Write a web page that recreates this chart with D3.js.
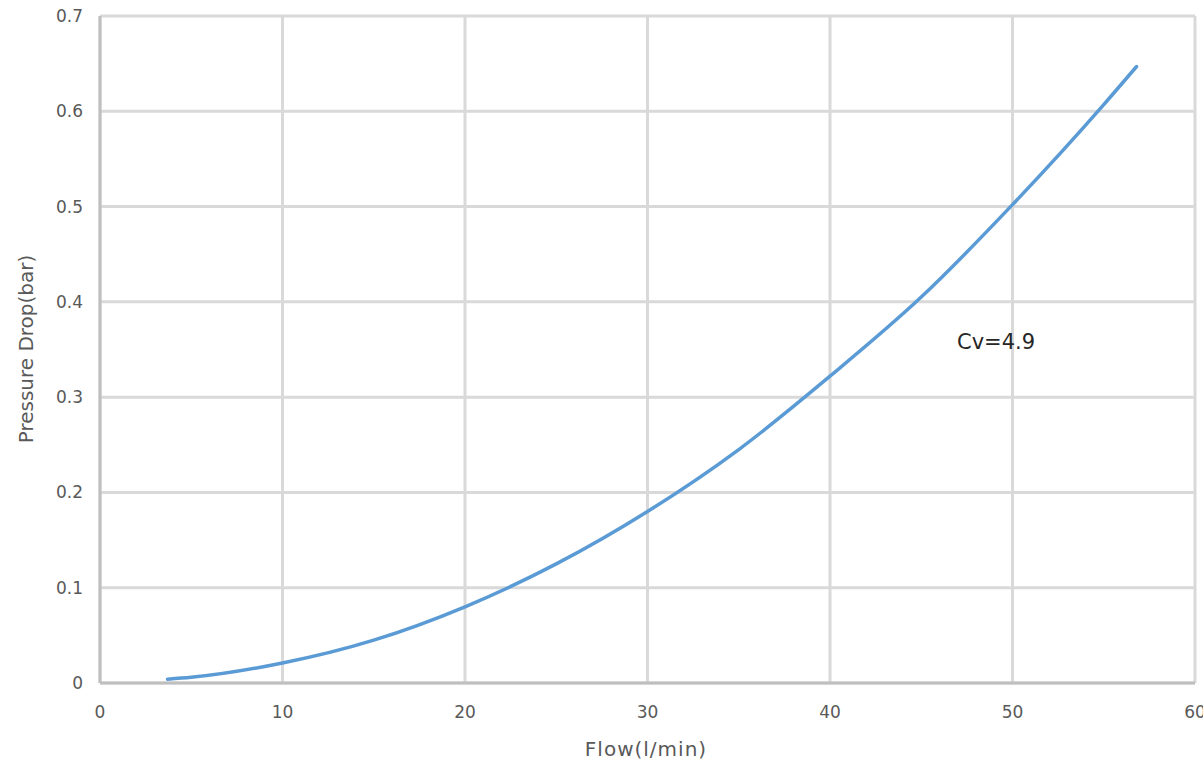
<!DOCTYPE html>
<html>
<head>
<meta charset="utf-8">
<script src="https://cdn.jsdelivr.net/npm/d3@7"></script>
<style>
  body { margin: 0; background: #fff; }
  text { font-family: "DejaVu Sans", "Open Sans", sans-serif; }
</style>
</head>
<body>
<svg width="1203" height="767"></svg>
<script>
// flow (l/min) vs pressure drop (bar)
var flow = [3.7, 5, 10, 15, 20, 25, 30, 35, 40, 45, 50, 55, 56.8];
var drop = [0.004, 0.006, 0.021, 0.045, 0.08, 0.125, 0.18, 0.245, 0.322, 0.405, 0.502, 0.607, 0.647];
var xTicks = [0, 10, 20, 30, 40, 50, 60];
var yTicks = [0, 0.1, 0.2, 0.3, 0.4, 0.5, 0.6, 0.7];

var svg = d3.select("svg"),
    plotLeft = 100, plotRight = 1195, plotTop = 16, plotBottom = 683;

var x = d3.scaleLinear().domain([0, 60]).range([plotLeft, plotRight]);
var y = d3.scaleLinear().domain([0, 0.7]).range([plotBottom, plotTop]);

var grid = svg.append("g");
grid.selectAll("line.v")
  .data(xTicks)
  .enter().append("line")
    .attr("x1", function(d) { return x(d); })
    .attr("x2", function(d) { return x(d); })
    .attr("y1", plotTop).attr("y2", plotBottom)
    .attr("stroke", "#d9d9d9").attr("stroke-width", 3);
grid.selectAll("line.h")
  .data(yTicks)
  .enter().append("line")
    .attr("y1", function(d) { return y(d); })
    .attr("y2", function(d) { return y(d); })
    .attr("x1", plotLeft).attr("x2", plotRight)
    .attr("stroke", "#d9d9d9").attr("stroke-width", 3);

// axis lines
svg.append("line").attr("x1", plotLeft).attr("x2", plotRight).attr("y1", plotBottom).attr("y2", plotBottom)
  .attr("stroke", "#bfbfbf").attr("stroke-width", 3);
svg.append("line").attr("x1", plotLeft).attr("x2", plotLeft).attr("y1", plotTop).attr("y2", plotBottom)
  .attr("stroke", "#bfbfbf").attr("stroke-width", 3);

svg.selectAll("text.xt")
  .data(xTicks)
  .enter().append("text")
    .attr("x", function(d) { return x(d); })
    .attr("y", 718)
    .attr("text-anchor", "middle")
    .attr("font-size", 17)
    .attr("fill", "#595959")
    .text(function(d) { return d; });

svg.selectAll("text.yt")
  .data(yTicks)
  .enter().append("text")
    .attr("x", 83)
    .attr("y", function(d) { return y(d) + 6; })
    .attr("text-anchor", "end")
    .attr("font-size", 17)
    .attr("fill", "#595959")
    .text(function(d) { return d === 0 ? "0" : d3.format(".1f")(d); });

var line = d3.line()
  .x(function(d, i) { return x(flow[i]); })
  .y(function(d) { return y(d); })
  .curve(d3.curveMonotoneX);

svg.append("path")
  .datum(drop)
  .attr("d", line)
  .attr("fill", "none")
  .attr("stroke", "#5b9bd5")
  .attr("stroke-width", 3.5)
  .attr("stroke-linecap", "round");

svg.append("text")
  .attr("x", 957).attr("y", 349)
  .attr("font-size", 21)
  .attr("fill", "#262626")
  .text("Cv=4.9");

svg.append("text")
  .attr("x", 646).attr("y", 756)
  .attr("text-anchor", "middle")
  .attr("font-size", 20)
  .attr("letter-spacing", 1)
  .attr("fill", "#595959")
  .text("Flow(l/min)");

svg.append("text")
  .attr("transform", "translate(33,349) rotate(-90)")
  .attr("text-anchor", "middle")
  .attr("font-size", 20)
  .attr("fill", "#595959")
  .text("Pressure Drop(bar)");
</script>
</body>
</html>
